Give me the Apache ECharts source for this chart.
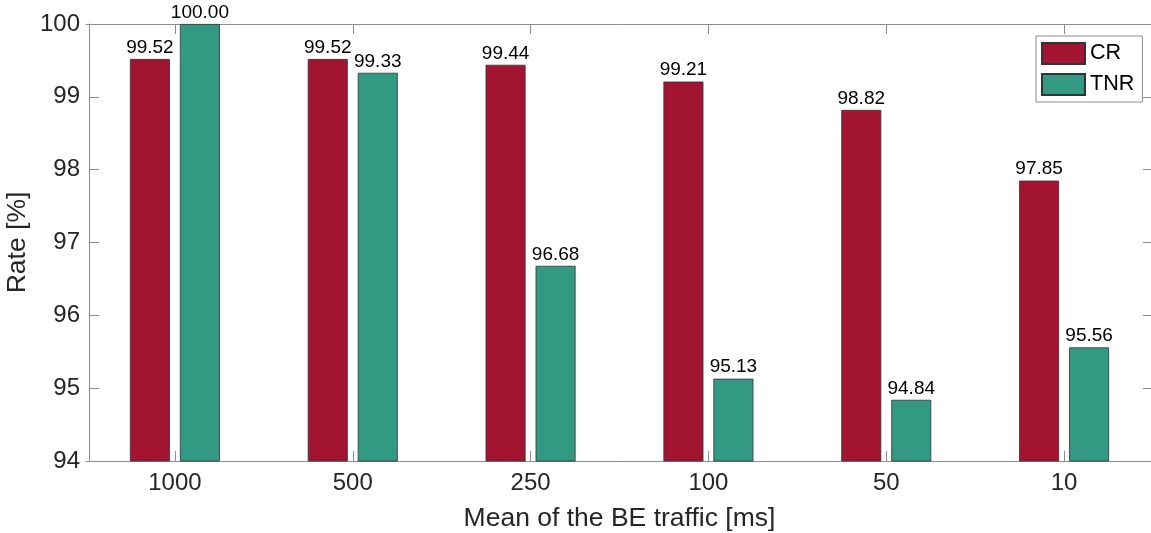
<!DOCTYPE html>
<html>
<head>
<meta charset="utf-8">
<script src="https://cdn.jsdelivr.net/npm/echarts@6/dist/echarts.min.js"></script>
<style>
html,body{margin:0;padding:0;background:#fff;}
#chart{width:1151px;height:533px;}
</style>
</head>
<body>
<div id="chart"></div>
<script>
const categories = ['1000', '500', '250', '100', '50', '10'];
const crValues = [99.52, 99.52, 99.44, 99.21, 98.82, 97.85];
const tnrValues = [100.00, 99.33, 96.68, 95.13, 94.84, 95.56];
const seriesNames = ['CR', 'TNR'];
const yTitle = 'Rate [%]';
const xTitle = 'Mean of the BE traffic [ms]';

const FONT = "'Liberation Sans', Arial, Helvetica, sans-serif";
const AXIS_COLOR = '#8c8c8c';
const TEXT_COLOR = '#262626';

const chart = echarts.init(document.getElementById('chart'), null, {renderer: 'canvas'});

const labelOpt = {
  show: true,
  position: 'top',
  distance: 2,
  fontSize: 19,
  fontFamily: FONT,
  color: '#000',
  formatter: p => p.value.toFixed(2)
};

chart.setOption({
  animation: false,
  backgroundColor: '#fff',
  textStyle: {fontFamily: FONT},
  grid: {left: 86, top: 24, width: 1067, height: 437, containLabel: false, outerBoundsMode: 'none'},
  legend: {
    data: seriesNames,
    orient: 'vertical',
    left: 1036,
    top: 36,
    itemWidth: 43,
    itemHeight: 21,
    itemGap: 8,
    padding: [6, 8, 6, 5],
    borderColor: AXIS_COLOR,
    borderWidth: 1,
    backgroundColor: '#fff',
    icon: 'rect',
    textStyle: {fontSize: 21.6, color: '#000', fontFamily: FONT}
  },
  xAxis: [
    {
      type: 'category',
      data: categories,
      boundaryGap: true,
      name: xTitle,
      nameLocation: 'middle',
      nameGap: 44,
      nameMoveOverlap: false,
      nameTextStyle: {fontSize: 26.5, color: TEXT_COLOR, fontFamily: FONT},
      axisLine: {show: true, lineStyle: {color: AXIS_COLOR, width: 1}},
      axisTick: {show: true, inside: true, length: 10, alignWithLabel: true, lineStyle: {color: AXIS_COLOR}},
      axisLabel: {fontSize: 24, color: TEXT_COLOR, margin: 10, fontFamily: FONT},
      splitLine: {show: false}
    },
    {
      type: 'category',
      data: categories,
      position: 'top',
      boundaryGap: true,
      axisLine: {show: true, lineStyle: {color: AXIS_COLOR, width: 1}},
      axisTick: {show: true, inside: true, length: 10, alignWithLabel: true, lineStyle: {color: AXIS_COLOR}},
      axisLabel: {show: false},
      splitLine: {show: false}
    }
  ],
  yAxis: [
    {
      type: 'value',
      min: 94,
      max: 100,
      interval: 1,
      offset: -3,
      name: yTitle,
      nameLocation: 'middle',
      nameGap: 58,
      nameMoveOverlap: false,
      nameTextStyle: {fontSize: 26.5, color: TEXT_COLOR, fontFamily: FONT},
      axisLine: {show: true, lineStyle: {color: AXIS_COLOR, width: 1}},
      axisTick: {show: true, inside: true, length: 10, lineStyle: {color: AXIS_COLOR}},
      axisLabel: {fontSize: 24, color: TEXT_COLOR, margin: 9, fontFamily: FONT},
      splitLine: {show: false}
    },
    {
      type: 'value',
      min: 94,
      max: 100,
      interval: 1,
      position: 'right',
      axisLine: {show: true, lineStyle: {color: AXIS_COLOR, width: 1}},
      axisTick: {show: true, inside: true, length: 10, lineStyle: {color: AXIS_COLOR}},
      axisLabel: {show: false},
      splitLine: {show: false}
    }
  ],
  series: [
    {
      name: seriesNames[0],
      type: 'bar',
      data: crValues,
      barWidth: 40,
      barGap: '25%',
      itemStyle: {color: '#A2142F', borderColor: '#333', borderWidth: 0.8},
      label: labelOpt
    },
    {
      name: seriesNames[1],
      type: 'bar',
      data: tnrValues,
      barWidth: 40,
      barGap: '25%',
      itemStyle: {color: '#339982', borderColor: '#333', borderWidth: 0.8},
      label: labelOpt
    }
  ]
});
</script>
</body>
</html>
